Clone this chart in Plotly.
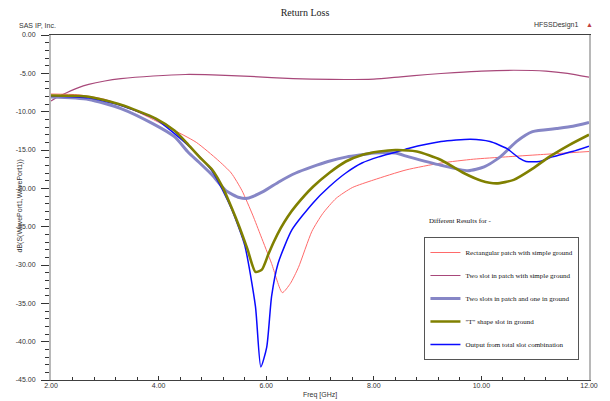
import plotly.graph_objects as go

# ---------------- data ----------------
freq_rect = [2.0, 2.5, 3.0, 3.6, 4.2, 4.7, 5.1, 5.35, 5.55, 5.75, 5.9, 6.1, 6.3, 6.45, 6.6,
             6.85, 7.05, 7.3, 7.6, 8.0, 8.6, 9.25, 9.85, 10.45, 11.1, 12.0]
db_rect = [-7.7, -7.8, -8.4, -10.0, -12.1, -14.0, -16.3, -18.0, -20.3, -23.5, -26.2, -29.8, -33.6,
           -32.4, -30.3, -25.6, -23.3, -21.3, -19.9, -18.9, -17.6, -16.7, -16.2, -15.9, -15.6, -15.2]

freq_two_slot = [2.0, 2.15, 2.3, 2.5, 2.7, 3.0, 3.3, 3.9, 4.5, 5.0, 5.7, 6.5, 7.2, 8.0, 8.5,
                 9.0, 9.5, 10.0, 10.6, 11.2, 11.6, 12.0]
db_two_slot = [-8.6, -8.0, -7.5, -6.9, -6.45, -6.0, -5.7, -5.35, -5.15, -5.2, -5.4, -5.7, -5.8,
               -5.75, -5.45, -5.15, -4.9, -4.7, -4.6, -4.7, -5.0, -5.5]

freq_slots_ground = [2.0, 2.7, 3.3, 3.9, 4.3, 4.55, 4.75, 5.0, 5.25, 5.5, 5.65, 5.95, 6.25, 6.55,
                     6.85, 7.15, 7.5, 7.8, 8.0, 8.4, 8.65, 9.25, 9.75, 10.05, 10.35, 10.65, 10.95,
                     11.4, 11.7, 12.0]
db_slots_ground = [-8.1, -8.4, -9.6, -11.6, -13.3, -15.3, -16.6, -18.3, -20.3, -21.2, -21.3, -20.4,
                   -19.1, -18.0, -17.2, -16.5, -15.9, -15.6, -15.4, -15.4, -15.9, -17.0, -17.7,
                   -17.2, -15.9, -13.9, -12.6, -12.2, -11.9, -11.4]

freq_t_shape = [2.0, 2.7, 3.3, 3.95, 4.3, 4.55, 4.8, 5.0, 5.2, 5.35, 5.5, 5.65, 5.8, 5.92, 6.04,
                6.14, 6.27, 6.4, 6.56, 6.87, 7.17, 7.48, 7.78, 8.1, 8.4, 8.8, 9.25, 9.67, 10.0,
                10.28, 10.6, 10.96, 11.26, 11.63, 12.0]
db_t_shape = [-7.9, -8.05, -9.1, -10.9, -12.5, -14.3, -16.2, -17.6, -20.0, -22.4, -25.0, -27.9,
              -30.9, -30.6, -28.6, -27.0, -25.2, -23.7, -22.2, -19.8, -18.0, -16.5, -15.65, -15.2,
              -15.0, -15.2, -16.3, -18.0, -19.0, -19.35, -18.9, -17.4, -15.9, -14.35, -13.0]

freq_total = [2.0, 2.7, 3.3, 3.95, 4.55, 5.0, 5.35, 5.6, 5.8, 5.9, 6.01, 6.1, 6.22, 6.48, 6.87,
              7.17, 7.48, 7.78, 8.09, 8.4, 8.64, 9.25, 9.8, 10.16, 10.47, 10.71, 10.83, 11.08,
              11.32, 11.69, 12.0]
db_total = [-7.95, -8.2, -9.2, -11.0, -14.4, -17.8, -22.6, -27.4, -35.4, -43.3, -40.7, -34.1,
            -29.8, -25.4, -21.9, -19.8, -18.0, -16.7, -15.9, -15.3, -14.8, -13.9, -13.6, -13.9,
            -14.8, -16.1, -16.5, -16.5, -15.9, -15.2, -14.5]

series_names = ["Rectangular patch with simple ground",
                "Two slot in patch with simple ground",
                "Two slots in patch and one in ground",
                "\"T\" shape slot in ground",
                "Output from total slot combination"]

x_tick_vals = [2, 4, 6, 8, 10, 12]
x_tick_text = ["2.00", "4.00", "6.00", "8.00", "10.00", "12.00"]
y_tick_vals = [0, -5, -10, -15, -20, -25, -30, -35, -40, -45]
y_tick_text = ["0.00", "-5.00", "-10.00", "-15.00", "-20.00", "-25.00", "-30.00",
               "-35.00", "-40.00", "-45.00"]

# ---------------- figure ----------------
L, R, T, B = 51, 13, 35, 21
W, H = 610, 401
PW, PH = W - L - R, H - T - B


def px(x):
    return (x - L) / PW


def py(y):
    return (H - B - y) / PH


fig = go.Figure()

styles = [
    dict(color="#ff6a6a", width=1),     # rect
    dict(color="#a8487a", width=1.2),   # two slot
    dict(color="#8686c6", width=3),     # slots + ground
    dict(color="#808000", width=2.6),   # T shape
    dict(color="#0a0aff", width=1.5),   # total
]
data = [(freq_rect, db_rect), (freq_two_slot, db_two_slot),
        (freq_slots_ground, db_slots_ground), (freq_t_shape, db_t_shape),
        (freq_total, db_total)]

draw_order = [1, 0, 2, 4, 3]
for i in draw_order:
    fx, fy = data[i]
    fig.add_trace(go.Scatter(
        x=fx, y=fy, mode="lines", name=series_names[i],
        line=dict(shape="spline", smoothing=0.6, **styles[i]),
        legendrank=i + 1, legendgroup=str(i)))

tick_font = dict(family="Liberation Sans Narrow, Liberation Sans, Arial", size=7, color="#333")

fig.update_layout(
    width=W, height=H,
    margin=dict(l=L, r=R, t=T, b=B),
    paper_bgcolor="white", plot_bgcolor="white",
    title=dict(text="Return Loss", x=0.5, xref="container", xanchor="center",
               y=1 - 12 / H, yref="container", yanchor="middle",
               font=dict(family="Liberation Serif, Times New Roman", size=10, color="#222")),
    xaxis=dict(range=[2, 12], tickvals=x_tick_vals, ticktext=x_tick_text,
               showgrid=False, zeroline=False, showline=True, linecolor="#404040",
               linewidth=1, mirror=True, ticks="inside", ticklen=4, tickcolor="#333",
               tickfont=tick_font, ticklabelstandoff=-1,
               minor=dict(dtick=0.4, tick0=2, ticks="inside", ticklen=3, tickcolor="#333",
                          showgrid=False)),
    yaxis=dict(range=[-45, 0], tickvals=y_tick_vals, ticktext=y_tick_text,
               showgrid=False, zeroline=False, showline=True, linecolor="#b8b8b8",
               linewidth=2, mirror=True, ticks="outside", ticklen=8, tickcolor="#333",
               tickfont=tick_font, ticklabelstandoff=4,
               minor=dict(dtick=1, tick0=0, ticks="outside", ticklen=4, tickcolor="#333",
                          showgrid=False)),
    showlegend=True,
    legend=dict(x=px(430), y=py(237), xanchor="left", yanchor="top",
                bgcolor="white", bordercolor="#555", borderwidth=1,
                font=dict(family="Liberation Serif, Times New Roman", size=7, color="#111"),
                tracegroupgap=4, itemwidth=30, traceorder="grouped"),
)

ann_font = dict(family="Liberation Sans Narrow, Liberation Sans, Arial", size=7, color="#333")
fig.add_annotation(text="SAS IP, Inc.", x=px(16), y=py(25), xref="paper", yref="paper",
                   xanchor="left", yanchor="middle", showarrow=False, font=ann_font)
fig.add_annotation(text="HFSSDesign1", x=px(588), y=py(25), xref="paper", yref="paper",
                   xanchor="right", yanchor="middle", showarrow=False, font=ann_font)
fig.add_annotation(text="▲", x=px(598), y=py(24), xref="paper", yref="paper",
                   xanchor="center", yanchor="middle", showarrow=False,
                   font=dict(size=7, color="#c04040"))
fig.add_annotation(text="Freq [GHz]", x=px(324), y=py(395), xref="paper", yref="paper",
                   xanchor="center", yanchor="middle", showarrow=False, font=ann_font)
fig.add_annotation(text="dB(S(WavePort1,WavePort1))", x=px(20), y=py(206), xref="paper",
                   yref="paper", xanchor="center", yanchor="middle", textangle=-90,
                   showarrow=False, font=ann_font)
fig.add_annotation(text="Different Results for -", x=px(433), y=py(221), xref="paper",
                   yref="paper", xanchor="left", yanchor="middle", showarrow=False,
                   font=dict(family="Liberation Serif, Times New Roman", size=7, color="#111"))

fig.write_html("out.html", config={"displayModeBar": False},
               post_script="document.body.style.margin='0';document.body.style.padding='0';")
